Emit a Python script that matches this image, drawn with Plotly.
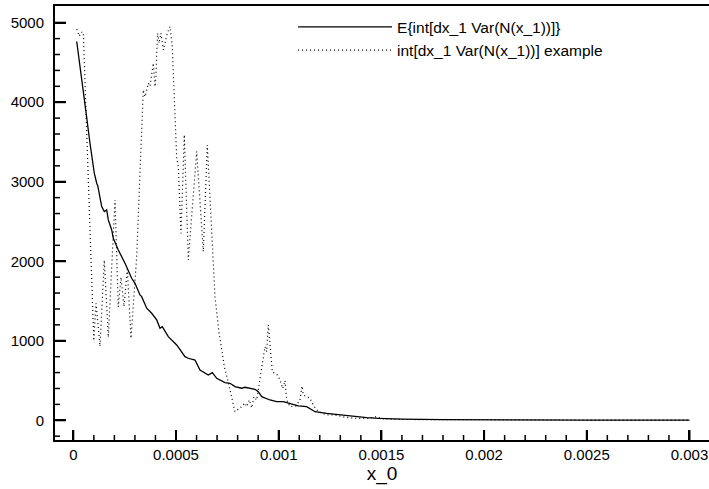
import plotly.graph_objects as go

# ---- data ----
mean_x = [0.0000166, 0.0000375, 0.0000604, 0.0000813, 0.0001022, 0.0001139, 0.0001190,
          0.0001383, 0.0001509, 0.0001626, 0.0001704, 0.0001870, 0.0001947, 0.0002191,
          0.0002517, 0.0002843, 0.0003004, 0.0003247, 0.0003330, 0.0003573, 0.0003817,
          0.0004060, 0.0004221, 0.0004333, 0.0004625, 0.0005034, 0.0005438, 0.0005599,
          0.0005925, 0.0006168, 0.0006412, 0.0006572, 0.0006767, 0.0006982, 0.0007385,
          0.0007629, 0.0007872, 0.0008199, 0.0008359, 0.0008603, 0.0008846, 0.0009007,
          0.0009172, 0.0009576, 0.0009902, 0.0010224, 0.0010550, 0.0010954, 0.0011363,
          0.0011767, 0.0012337, 0.0012984, 0.0013715, 0.0014284, 0.0014849, 0.0016,
          0.0018, 0.0020, 0.0025, 0.0030]
mean_y = [4763, 4322, 3903, 3484, 3107, 2981, 2950,
          2687, 2624, 2645, 2520, 2394, 2289, 2142,
          1975, 1786, 1723, 1576, 1555, 1409, 1346,
          1262, 1157, 1177, 1052, 947, 800, 780,
          758, 633, 591, 570, 599, 528, 473,
          465, 423, 403, 415, 403, 390, 360,
          297, 255, 234, 234, 213, 180, 171,
          108, 88, 67, 46, 33, 25, 15,
          8, 5, 3, 2]

ex_x = [0.0000166, 0.0000292, 0.0000375, 0.0000487, 0.0000998, 0.0001105, 0.0001300,
        0.0001509, 0.0001704, 0.0002030, 0.0002191, 0.0002322, 0.0002468, 0.0002629,
        0.0002809, 0.0003038, 0.0003086, 0.0003408, 0.0003491, 0.0003573, 0.0003651,
        0.0003734, 0.0003817, 0.0003895, 0.0003978, 0.0004026, 0.0004060, 0.0004109,
        0.0004172, 0.0004270, 0.0004382, 0.0004464, 0.0004576, 0.0004708, 0.0004757,
        0.0004820, 0.0005034, 0.0005112, 0.0005243, 0.0005404, 0.0005599, 0.0006008,
        0.0006329, 0.0006524, 0.0006899, 0.0007094, 0.0007254, 0.0007351, 0.0007517,
        0.0007712, 0.0007872, 0.0008199, 0.0008359, 0.0008442, 0.0008569, 0.0008685,
        0.0008797, 0.0008929, 0.0009090, 0.0009221, 0.0009333, 0.0009416, 0.0009494,
        0.0009576, 0.0009688, 0.0009932, 0.0010063, 0.0010195, 0.0010307, 0.0010390,
        0.0010550, 0.0010842, 0.0011037, 0.0011134, 0.0011198, 0.0011524, 0.0011685,
        0.0011850, 0.0012093, 0.0012337, 0.0012741, 0.0013228, 0.0013797, 0.0014348,
        0.0014771, 0.0015, 0.0016, 0.0018, 0.0020, 0.0025, 0.0030]
ex_y = [4918, 4830, 4880, 4880, 1000, 1470, 930,
        2016, 1044, 2771, 1425, 1800, 1430, 1900,
        1030, 1850, 2058, 4155, 4070, 4150, 4240,
        4200, 4385, 4490, 4196, 4322, 4616, 4868,
        4742, 4868, 4658, 4763, 4868, 4951, 4868,
        4700, 3300, 3190, 2350, 3590, 2016, 3380,
        2121, 3463, 1555, 1098, 846, 674, 507,
        297, 108, 171, 218, 171, 255, 155,
        297, 255, 507, 758, 926, 863, 1199,
        969, 611, 570, 507, 400, 500, 255,
        171, 180, 255, 430, 318, 277, 192,
        130, 88, 67, 67, 38, 25, 25,
        46, 20, 10, 8, 5, 3, 2]

x_tickvals = [0, 0.0005, 0.001, 0.0015, 0.002, 0.0025, 0.003]
x_ticktext = ["0", "0.0005", "0.001", "0.0015", "0.002", "0.0025", "0.003"]
y_tickvals = [0, 1000, 2000, 3000, 4000, 5000]
y_ticktext = ["0", "1000", "2000", "3000", "4000", "5000"]

name_mean = "E{int[dx_1 Var(N(x_1))]}"
name_ex = "int[dx_1 Var(N(x_1))] example"
x_title = "x_0"

FONT = "Liberation Sans, Arial, Helvetica, sans-serif"
X_RANGE = [-0.0000891, 0.003095]
Y_RANGE = [-248, 5210]

W, H = 709, 489
ML, MR, MT, MB = 55, 0, 6, 49
PW, PH = W - ML - MR, H - MT - MB
XPX = (X_RANGE[1] - X_RANGE[0]) / PW   # axis units per pixel
YPX = (Y_RANGE[1] - Y_RANGE[0]) / PH

fig = go.Figure()
fig.add_trace(go.Scatter(x=mean_x, y=mean_y, mode="lines", name=name_mean,
                         line=dict(color="black", width=1.3)))
fig.add_trace(go.Scatter(x=ex_x, y=ex_y, mode="lines", name=name_ex,
                         line=dict(color="black", width=1.2, dash="1px,3px")))

# inside tick marks built from the tick value lists
x_minor = [i * 0.0001 for i in range(0, 31) if i % 5 != 0]
y_minor = [i * 200 for i in range(-1, 26) if i % 5 != 0]


def vticks(vals, length):
    xs, ys = [], []
    for v in vals:
        xs += [v, v, None]
        ys += [Y_RANGE[0], Y_RANGE[0] + length * YPX, None]
    return xs, ys


def hticks(vals, length):
    xs, ys = [], []
    for v in vals:
        xs += [X_RANGE[0], X_RANGE[0] + length * XPX, None]
        ys += [v, v, None]
    return xs, ys


for (xs, ys), w in [(vticks(x_tickvals, 10), 2), (vticks(x_minor, 5), 1.5),
                    (hticks(y_tickvals, 11), 2), (hticks(y_minor, 5), 1.5)]:
    fig.add_trace(go.Scatter(x=xs, y=ys, mode="lines", showlegend=False,
                             hoverinfo="skip", cliponaxis=False,
                             line=dict(color="black", width=w)))

fig.update_layout(
    template="none",
    width=W, height=H,
    margin=dict(l=ML, r=MR, t=MT, b=MB, pad=0),
    paper_bgcolor="white", plot_bgcolor="white",
    font=dict(family=FONT, size=15, color="black"),
    showlegend=True,
    legend=dict(x=0.364, y=0.99, xanchor="left", yanchor="top",
                bgcolor="rgba(0,0,0,0)", font=dict(size=15.5),
                itemwidth=94, traceorder="normal"),
    xaxis=dict(range=X_RANGE, showgrid=False, zeroline=False,
               showline=True, linecolor="black", linewidth=2, mirror=True,
               ticks="inside", ticklen=10, tickwidth=2, tickcolor="black",
               tickmode="array", tickvals=x_tickvals, ticktext=x_ticktext,
               title=dict(text=x_title, font=dict(size=19), standoff=4)),
    yaxis=dict(range=Y_RANGE, showgrid=False, zeroline=False,
               showline=True, linecolor="black", linewidth=2, mirror=False,
               ticks="inside", ticklen=11, tickwidth=2, tickcolor="black",
               tickmode="array", tickvals=y_tickvals, ticktext=y_ticktext,
               ticklabelstandoff=6),
)

fig.write_html("out.html", config={"displayModeBar": False},
               post_script="document.body.style.margin='0px';"
                           "document.body.style.overflow='hidden';"
                           "document.documentElement.style.overflow='hidden';")
